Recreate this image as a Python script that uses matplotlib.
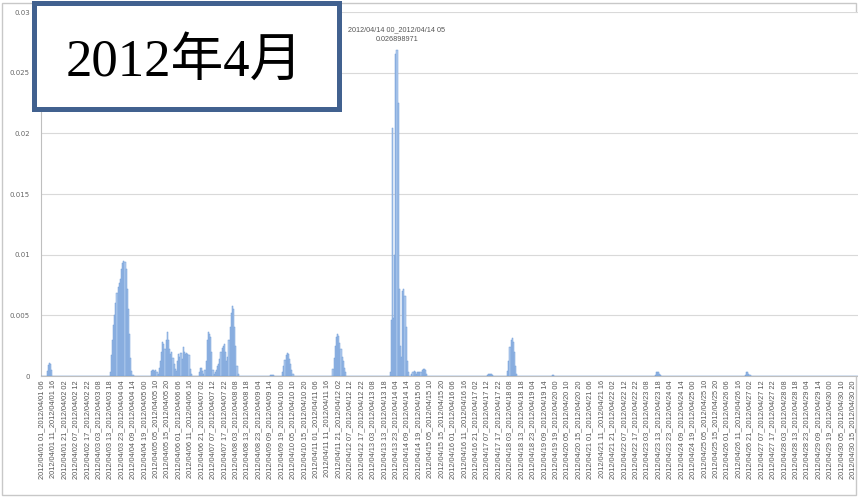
import numpy as np
import pandas as pd
import matplotlib
matplotlib.use('Agg')
import matplotlib.pyplot as plt
from matplotlib.patches import Rectangle

# CATEGORIES: hourly 5-hour windows, April 2012
n_cat = 715
starts = pd.date_range('2012-04-01 01:00', periods=n_cat, freq='h')
cat_labels = [f"{t:%Y/%m/%d %H}_{t + pd.Timedelta(hours=5):%Y/%m/%d %H}" for t in starts]
label_step = 10

# VALUES (units of 1e-4): (first category index, values)
seg_apr01 = (5, [4, 9, 11, 10, 5])
seg_apr03 = (60, [3, 17, 30, 42, 50, 60, 68, 73, 77, 80, 88, 93, 95, 94, 88, 72, 55, 35, 15, 4, 1])
seg_apr05 = (96, [4, 5, 5, 4, 5, 3, 2, 7, 12, 20, 28, 26, 22, 30, 36, 30, 22, 18, 20, 15, 10, 6,
                  4, 12, 18, 16, 19, 14, 24, 20, 18, 19, 18, 17, 6, 2])
seg_apr06 = (138, [3, 7, 7, 4, 2, 5, 12, 30, 36, 35, 32, 20, 5])
seg_apr07 = (151, [2, 3, 5, 8, 10, 14, 20, 23, 25, 26, 20, 12, 16, 30, 40, 52, 58, 55, 40, 25, 8, 2])
seg_apr09 = (200, [1, 1, 1, 1])
seg_apr10 = (211, [3, 8, 13, 17, 19, 18, 14, 10, 5, 2])
seg_apr11 = (255, [6, 15, 25, 32, 35, 33, 27, 22, 16, 12, 7, 3])
seg_apr13 = (305, [3, 46, 204, 48, 100, 265, 268.98971, 225, 72, 25, 16, 70, 72, 66, 40, 12, 3])
seg_apr14 = (324, [2, 3, 4, 3, 2, 3, 3, 3, 3, 5, 6, 6, 5, 2])
seg_apr17 = (390, [1, 2, 2, 2, 2, 1])
seg_apr18 = (408, [4, 12, 24, 30, 31, 28, 20, 8, 2])
seg_apr19 = (447, [1, 1])
seg_apr23 = (537, [1, 3, 3, 3, 2, 1])
seg_apr26 = (616, [1, 3, 3, 2, 1])
segments = [seg_apr01, seg_apr03, seg_apr05, seg_apr06, seg_apr07, seg_apr09, seg_apr10,
            seg_apr11, seg_apr13, seg_apr14, seg_apr17, seg_apr18, seg_apr19, seg_apr23, seg_apr26]

values = np.zeros(n_cat)
for first, vals in segments:
    values[first:first + len(vals)] = np.array(vals) * 1e-4

peak_idx = int(np.argmax(values))

y_ticks = [0, 0.005, 0.01, 0.015, 0.02, 0.025, 0.03]
y_tick_labels = ['0', '0.005', '0.01', '0.015', '0.02', '0.025', '0.03']

# PLOT
fig = plt.figure(figsize=(8.58, 4.98), dpi=100)
ax = fig.add_axes([41 / 858, 122 / 498, 817 / 858, 364 / 498])

x = np.arange(n_cat)
ax.bar(x, values, width=1.0, color='#B3CCEE', edgecolor='#6E9BD6', linewidth=0.35, zorder=3)

ax.set_xlim(-0.5, n_cat - 0.5)
ax.set_ylim(0, 0.03)
ax.set_yticks(y_ticks)
ax.set_yticklabels(y_tick_labels)
ax.set_xticks(x[::label_step])
ax.set_xticklabels(cat_labels[::label_step], rotation=90, family='Liberation Sans')

ax.tick_params(axis='y', length=0, labelsize=5, labelcolor='#666666', pad=8)
ax.tick_params(axis='x', length=0, labelsize=5.3, labelcolor='#555555', pad=3)
ax.grid(axis='y', color='#D9D9D9', linewidth=0.8, zorder=0)
for s in ['top', 'right']:
    ax.spines[s].set_visible(False)
for s in ['left', 'bottom']:
    ax.spines[s].set_color('#BFBFBF')
    ax.spines[s].set_linewidth(0.8)

ax.annotate(f"{cat_labels[peak_idx]}\n{values[peak_idx]:.9f}",
            xy=(peak_idx, values[peak_idx]), xytext=(0, 5), textcoords='offset points',
            ha='center', va='bottom', fontsize=5.2, color='#555555',
            family='Liberation Sans', linespacing=1.4)

# title box
fig.add_artist(Rectangle((34 / 858, 1 - 109 / 498), 305 / 858, 106 / 498,
                         transform=fig.transFigure, facecolor='white',
                         edgecolor='#41618F', linewidth=3.6, zorder=10))
fig.text(184 / 858, 1 - 62 / 498, '2012年4月', ha='center', va='center',
         fontsize=38, color='black', family=['Liberation Serif', 'Noto Sans CJK JP'],
         zorder=11)

# outer frame
fig.add_artist(Rectangle((2 / 858, 3 / 498), 854 / 858, 492 / 498, transform=fig.transFigure,
                         facecolor='none', edgecolor='#C8C8C8', linewidth=1.0, zorder=0))

fig.savefig('out.png', dpi=100)
